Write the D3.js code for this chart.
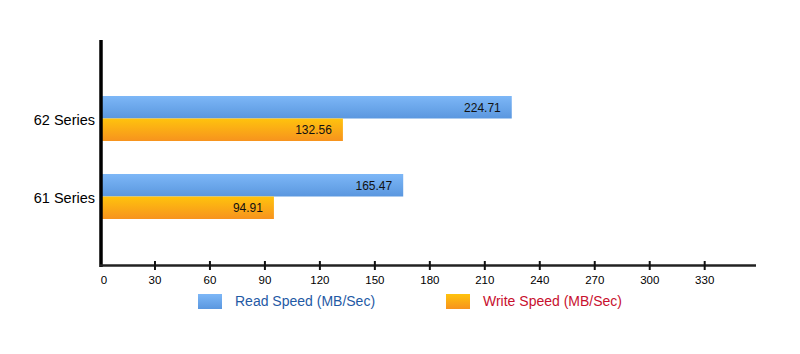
<!DOCTYPE html>
<html><head><meta charset="utf-8">
<script src="https://cdn.jsdelivr.net/npm/d3@7"></script>
<style>body{margin:0;background:#fff;}svg{display:block;font-family:"Liberation Sans",Arial,sans-serif;}</style>
</head><body>
<script>
const categories = ["62 Series", "61 Series"];
const seriesNames = ["Read Speed (MB/Sec)", "Write Speed (MB/Sec)"];
const readSpeed = [224.71, 165.47];
const writeSpeed = [132.56, 94.91];
const tickValues = [0, 30, 60, 90, 120, 150, 180, 210, 240, 270, 300, 330];

const W = 800, H = 354;
const svg = d3.select("body").append("svg").attr("width", W).attr("height", H);
const defs = svg.append("defs");
function grad(id, c1, c2) {
  const g = defs.append("linearGradient").attr("id", id).attr("x1", 0).attr("y1", 0).attr("x2", 0).attr("y2", 1);
  g.append("stop").attr("offset", "0%").attr("stop-color", c1);
  g.append("stop").attr("offset", "100%").attr("stop-color", c2);
}
grad("gBlue", "#7db7f7", "#5a97df");
grad("gOrange", "#ffc30d", "#f7931e");

const x = d3.scaleLinear().domain([0, 358]).range([100, 756]);
const y = d3.scaleBand().domain(categories).range([96, 219]).paddingInner(0.423);
const sub = d3.scaleBand().domain(seriesNames).range([0, y.bandwidth()]);

const data = categories.map((c, i) => ({cat: c, vals: [readSpeed[i], writeSpeed[i]]}));
const fills = ["url(#gBlue)", "url(#gOrange)"];

const groups = svg.selectAll("g.cat").data(data).join("g").attr("class", "cat")
  .attr("transform", d => `translate(0,${y(d.cat)})`);
groups.each(function(d) {
  const g = d3.select(this);
  d.vals.forEach((v, j) => {
    g.append("rect").attr("x", x(0)).attr("y", sub(seriesNames[j]))
      .attr("width", x(v) - x(0)).attr("height", sub.bandwidth()).attr("fill", fills[j]);
    g.append("text").attr("x", x(v) - 11).attr("y", sub(seriesNames[j]) + sub.bandwidth() / 2 + 4.5)
      .attr("text-anchor", "end").attr("font-size", 12).attr("fill", "#111").text(v.toFixed(2));
  });
});

// category labels
svg.selectAll("text.cl").data(categories).join("text").attr("class", "cl")
  .attr("x", 95).attr("y", d => y(d) + y.bandwidth() / 2 + 6.5)
  .attr("text-anchor", "end").attr("font-size", 14.5).attr("fill", "#000").text(d => d);

// axes lines
svg.append("line").attr("x1", 101).attr("x2", 101).attr("y1", 40).attr("y2", 267)
  .attr("stroke", "#000").attr("stroke-width", 3.5);
svg.append("line").attr("x1", 100).attr("x2", 756).attr("y1", 265.5).attr("y2", 265.5)
  .attr("stroke", "#222").attr("stroke-width", 2.5);
svg.selectAll("line.tk").data(tickValues.slice(1)).join("line").attr("class", "tk")
  .attr("x1", d => x(d)).attr("x2", d => x(d)).attr("y1", 261).attr("y2", 270)
  .attr("stroke", "#111").attr("stroke-width", 2);
svg.selectAll("text.tl").data(tickValues).join("text").attr("class", "tl")
  .attr("x", d => d === 0 ? x(d) + 4 : x(d)).attr("y", 284)
  .attr("text-anchor", "middle").attr("font-size", 11.5).attr("fill", "#000").text(d => d);

// legend
const legX = [198, 446], legColors = ["#1f5aa5", "#c8102e"];
seriesNames.forEach((s, j) => {
  svg.append("rect").attr("x", legX[j]).attr("y", 294).attr("width", 24).attr("height", 15).attr("fill", fills[j]);
  svg.append("text").attr("x", legX[j] + 37).attr("y", 306).attr("font-size", 14)
    .attr("fill", legColors[j]).text(s);
});
</script>
</body></html>
